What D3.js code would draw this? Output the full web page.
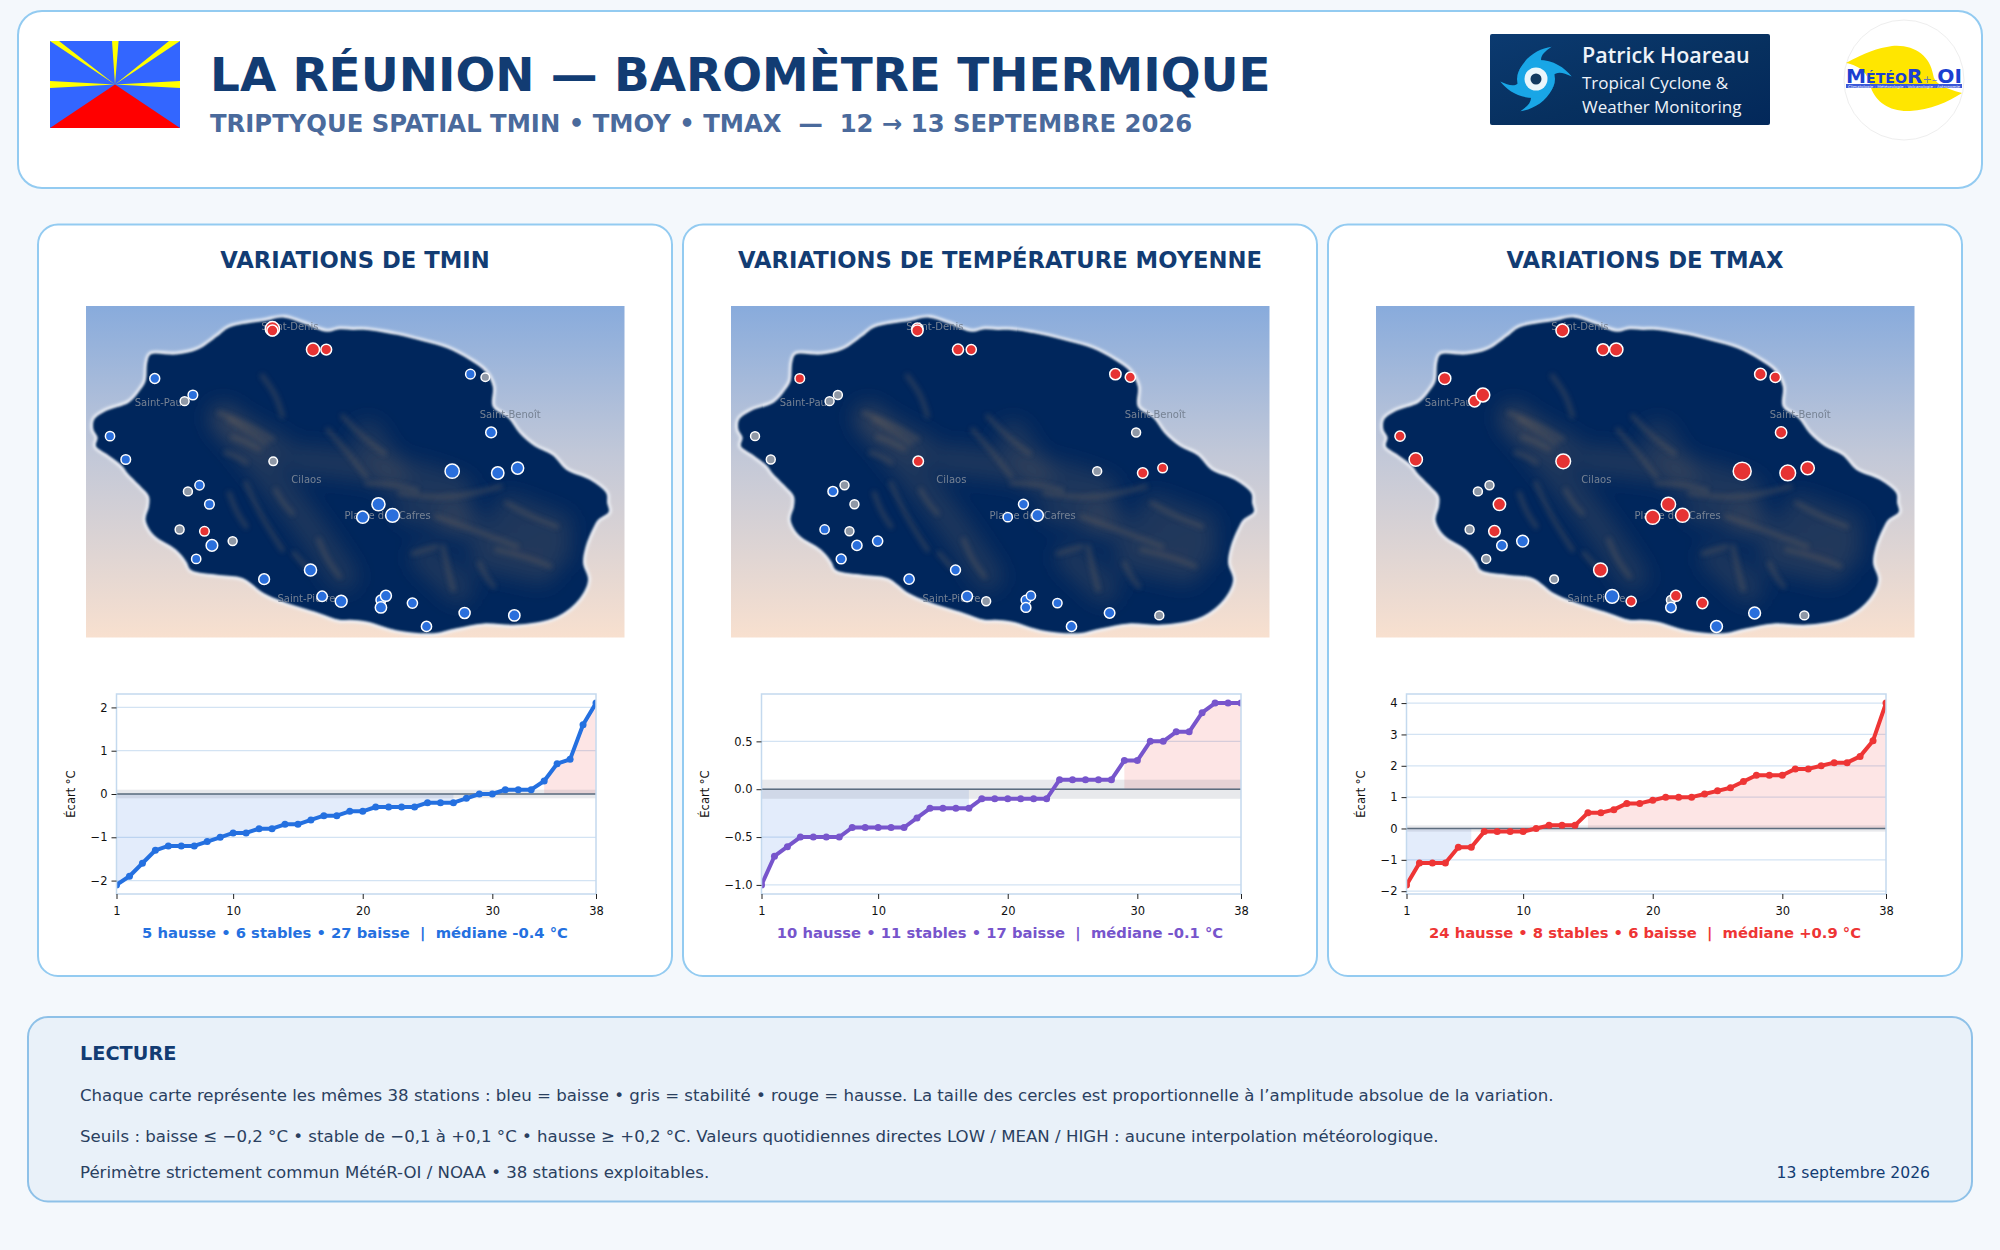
<!DOCTYPE html>
<html lang="fr">
<head>
<meta charset="utf-8">
<title>La Réunion - baromètre thermique</title>
<script src="https://cdn.jsdelivr.net/npm/d3@7"></script>
<style>
html, body { margin: 0; padding: 0; background: #f4f8fc; }
svg { display: block; font-family: "DejaVu Sans", sans-serif; }
text { white-space: pre; }
</style>
</head>
<body>
<div id="chart"></div>
<script>
// stations, same order on the three maps
var stationLon = [55.435, 55.435, 55.484, 55.500, 55.293, 55.339, 55.329, 55.674, 55.692, 55.699,
	55.239, 55.258, 55.436, 55.652, 55.707, 55.731, 55.347, 55.333, 55.359, 55.563,
	55.544, 55.580, 55.323, 55.353, 55.362, 55.387, 55.343, 55.481, 55.425, 55.495,
	55.518, 55.566, 55.572, 55.566, 55.604, 55.667, 55.727, 55.621];
var stationLat = [-20.897, -20.900, -20.931, -20.931, -20.978, -21.005, -21.015, -20.971, -20.976, -21.066,
	-21.072, -21.110, -21.113, -21.129, -21.132, -21.124, -21.152, -21.162, -21.183, -21.183,
	-21.204, -21.201, -21.224, -21.227, -21.250, -21.243, -21.272, -21.290, -21.305, -21.333,
	-21.341, -21.339, -21.332, -21.351, -21.344, -21.360, -21.364, -21.382];

// variation per station (°C)
var tminValues = [2.1, 0.8, 1.6, 0.7, -0.4, -0.3, -0.1, -0.3, 0.0, -0.7,
	-0.2, -0.3, 0.0, -2.1, -1.3, -1.2, -0.2, 0.1, -0.3, -1.6,
	-1.2, -1.9, 0.1, 0.3, -1.0, 0.1, -0.2, -1.2, -0.7, -0.6,
	-1.1, -0.4, -0.8, -0.9, -0.5, -0.8, -0.9, -0.5];
var tmoyValues = [0.9, 0.9, 0.8, 0.5, 0.3, -0.1, -0.1, 0.9, 0.5, 0.1,
	-0.1, -0.1, 0.6, -0.1, 0.6, 0.3, 0.1, -0.4, 0.1, -0.4,
	-0.2, -1.0, -0.2, -0.1, -0.5, -0.5, -0.4, -0.4, -0.5, -0.7,
	0.1, -0.3, -0.2, -0.4, -0.2, -0.6, 0.1, -0.5];
var tmaxValues = [0.1, 1.5, 1.1, 1.7, 1.2, 1.9, 1.0, 1.0, 0.6, 0.9,
	0.5, 1.7, 2.3, 4.0, 2.8, 1.7, -0.1, -0.1, 1.3, 2.1,
	2.1, 2.0, -0.1, 1.0, -0.6, -1.1, -0.1, 1.9, 0.0, -1.8,
	0.5, 0.1, 0.8, -0.6, 0.8, -1.1, 0.1, -1.1];

var panelTitles = ["VARIATIONS DE TMIN", "VARIATIONS DE TEMPÉRATURE MOYENNE", "VARIATIONS DE TMAX"];
var panelNotes = ["5 hausse • 6 stables • 27 baisse  |  médiane -0.4 °C",
	"10 hausse • 11 stables • 17 baisse  |  médiane -0.1 °C",
	"24 hausse • 8 stables • 6 baisse  |  médiane +0.9 °C"];
var panelValues = [tminValues, tmoyValues, tmaxValues];
var panelYTicks = [[-2, -1, 0, 1, 2], [-1, -0.5, 0, 0.5], [-2, -1, 0, 1, 2, 3, 4]];
var rankTicks = [1, 10, 20, 30, 38];

// coastline, clockwise from the north tip
var coastLon = [55.449, 55.471, 55.501, 55.516, 55.532, 55.548, 55.585, 55.618, 55.646, 55.673, 55.692, 55.701,
	55.701, 55.720, 55.733, 55.752, 55.773, 55.790, 55.818, 55.838, 55.839, 55.841, 55.828, 55.822, 55.813,
	55.810, 55.816, 55.806, 55.778, 55.730, 55.690, 55.657, 55.629, 55.585, 55.549, 55.529, 55.516, 55.491,
	55.447, 55.425, 55.399, 55.371, 55.337, 55.331, 55.319, 55.292, 55.282, 55.286, 55.286, 55.276, 55.260,
	55.254, 55.236, 55.222, 55.224, 55.219, 55.220, 55.234, 55.262, 55.276, 55.282, 55.284, 55.288, 55.319,
	55.345, 55.369, 55.383, 55.427];
var coastLat = [-20.879, -20.888, -20.902, -20.898, -20.899, -20.899, -20.907, -20.918, -20.929, -20.948, -20.967, -20.991,
	-21.024, -21.043, -21.067, -21.089, -21.103, -21.127, -21.143, -21.165, -21.181, -21.195, -21.208, -21.222, -21.252,
	-21.279, -21.306, -21.336, -21.366, -21.379, -21.377, -21.385, -21.393, -21.388, -21.374, -21.371, -21.371, -21.360,
	-21.341, -21.328, -21.303, -21.298, -21.290, -21.276, -21.257, -21.233, -21.208, -21.187, -21.170, -21.154, -21.132,
	-21.121, -21.102, -21.088, -21.074, -21.061, -21.045, -21.031, -21.017, -20.996, -20.982, -20.952, -20.939, -20.939,
	-20.931, -20.909, -20.895, -20.884];

// broad lighter areas of the relief and the thinner ridges on top of them
var reliefHaze = [
	[[55.375, -21.04], [55.42, -21.12], [55.47, -21.20], [55.52, -21.30]],
	[[55.47, -21.11], [55.60, -21.13], [55.66, -21.16]],
	[[55.65, -21.21], [55.72, -21.24], [55.78, -21.26]],
	[[55.62, -21.27], [55.66, -21.32]],
	[[55.38, -21.05], [55.44, -21.09]],
	[[55.55, -21.07], [55.58, -21.14]],
	[[55.60, -21.19], [55.66, -21.20]],
	[[55.72, -21.19], [55.78, -21.22]],
	[[55.69, -21.27], [55.76, -21.29]]
];
var reliefRidges = [
	[[55.371, -21.034], [55.405, -21.052], [55.435, -21.077]],
	[[55.383, -21.045], [55.410, -21.068], [55.427, -21.083]],
	[[55.387, -21.074], [55.405, -21.082], [55.419, -21.093]],
	[[55.379, -21.099], [55.392, -21.105], [55.403, -21.115]],
	[[55.423, -20.974], [55.440, -21.005], [55.447, -21.039]],
	[[55.403, -21.149], [55.420, -21.200], [55.447, -21.257]],
	[[55.383, -21.165], [55.391, -21.195], [55.403, -21.219]],
	[[55.439, -21.160], [55.447, -21.180], [55.459, -21.198]],
	[[55.491, -21.241], [55.500, -21.272], [55.516, -21.301]],
	[[55.461, -21.263], [55.475, -21.284]],
	[[55.633, -21.203], [55.689, -21.230], [55.730, -21.252]],
	[[55.718, -21.181], [55.750, -21.205], [55.778, -21.219]],
	[[55.706, -21.257], [55.740, -21.268], [55.770, -21.284]],
	[[55.641, -21.252], [55.647, -21.290], [55.653, -21.322]],
	[[55.605, -21.263], [55.633, -21.252]],
	[[55.685, -21.279], [55.692, -21.300], [55.702, -21.317]],
	[[55.589, -21.165], [55.649, -21.176], [55.710, -21.154]],
	[[55.549, -21.149], [55.580, -21.150], [55.609, -21.160]],
	[[55.502, -21.062], [55.530, -21.105], [55.548, -21.138]],
	[[55.520, -21.040], [55.545, -21.075], [55.570, -21.100]]
];
var placeNames = ["Saint-Denis", "Saint-Paul", "Saint-Benoît", "Cilaos", "Plaine des Cafres", "Saint-Pierre"];
var placeLon = [55.456, 55.299, 55.722, 55.476, 55.574, 55.476];
var placeLat = [-20.893, -21.018, -21.037, -21.143, -21.201, -21.336];

var noteLines = ["Chaque carte représente les mêmes 38 stations : bleu = baisse • gris = stabilité • rouge = hausse. La taille des cercles est proportionnelle à l’amplitude absolue de la variation.",
	"Seuils : baisse ≤ −0,2 °C • stable de −0,1 à +0,1 °C • hausse ≥ +0,2 °C. Valeurs quotidiennes directes LOW / MEAN / HIGH : aucune interpolation météorologique.",
	"Périmètre strictement commun MétéR-OI / NOAA • 38 stations exploitables."];

var navy = "#123c73",
	blue = "#2470e0",
	red = "#ee3535",
	purple = "#7755cc",
	gray = "#8f98a6",
	panelColors = [blue, purple, red];

var svg = d3.select("#chart").append("svg")
	.attr("width", 2000)
	.attr("height", 1250);
var defs = svg.append("defs");

var sky = defs.append("linearGradient").attr("id", "sky")
	.attr("x1", 0).attr("y1", 0).attr("x2", 0).attr("y2", 1);
sky.append("stop").attr("offset", "0%").attr("stop-color", "#88abdc");
sky.append("stop").attr("offset", "45%").attr("stop-color", "#c2c8d8");
sky.append("stop").attr("offset", "100%").attr("stop-color", "#f8e0cf");

var logoBg = defs.append("linearGradient").attr("id", "logoBg")
	.attr("x1", 0).attr("y1", 0).attr("x2", 1).attr("y2", 1);
logoBg.append("stop").attr("offset", "0%").attr("stop-color", "#0b3a70");
logoBg.append("stop").attr("offset", "55%").attr("stop-color", "#07305f");
logoBg.append("stop").attr("offset", "100%").attr("stop-color", "#03285a");

function blurFilter(id, amount) {
	defs.append("filter").attr("id", id)
		.attr("x", "-20%").attr("y", "-20%").attr("width", "140%").attr("height", "140%")
		.append("feGaussianBlur").attr("stdDeviation", amount);
}
blurFilter("glow", 1.5);
blurFilter("edge", 0.8);
blurFilter("hazeBlur", 10);
blurFilter("ridgeBlur", 2.4);

function card(x, y, w, h, r, fill, stroke) {
	svg.append("rect")
		.attr("x", x).attr("y", y)
		.attr("width", w).attr("height", h)
		.attr("rx", r)
		.attr("fill", fill)
		.attr("stroke", stroke)
		.attr("stroke-width", 2);
}

function drawHeader() {
	card(18, 11, 1964, 177, 24, "#fff", "#93cbf1");

	var flag = svg.append("g").attr("transform", "translate(50,41)");
	flag.append("rect").attr("width", 130).attr("height", 87).attr("fill", "#3366ff");
	flag.append("path").attr("d", "M65,43.5L0,87H130Z").attr("fill", "#ff0000");
	flag.append("path")
		.attr("d", "M65,43.5L0,0H9Z M65,43.5L62,0H68.6Z M65,43.5L119,0H130Z M65,43.5L0,40V47Z M65,43.5L130,40V47Z")
		.attr("fill", "#ffff00");

	svg.append("text").attr("x", 210).attr("y", 91)
		.attr("font-size", 46.9).attr("font-weight", "bold").attr("fill", navy)
		.text("LA RÉUNION — BAROMÈTRE THERMIQUE");
	svg.append("text").attr("x", 210).attr("y", 132)
		.attr("font-size", 24.3).attr("font-weight", "bold").attr("fill", "#4a6a9c")
		.text("TRIPTYQUE SPATIAL TMIN • TMOY • TMAX  —  12 → 13 SEPTEMBRE 2026");

	// Patrick Hoareau badge
	var badge = svg.append("g").attr("transform", "translate(1490,34)");
	badge.append("rect").attr("width", 280).attr("height", 91).attr("rx", 2).attr("fill", "url(#logoBg)");
	var eye = badge.append("g").attr("transform", "translate(46,45)");
	eye.selectAll("path").data([0, 60, 180, 240]).join("path")
		.attr("d", "M-18,-10C-10,-26 4,-33 17,-35C8,-29 4,-24 6,-18C12,-14 16,-8 18,-2L0,0Z")
		.attr("transform", function(a) { return "rotate(" + a + ") scale(0.92)"; })
		.attr("fill", "#19a6e6");
	eye.append("circle").attr("r", 19).attr("fill", "#19a6e6");
	eye.append("circle").attr("r", 11.5).attr("fill", "#eaf6fb");
	eye.append("circle").attr("r", 5.5).attr("fill", "#123a60");
	var badgeText = badge.append("g").attr("fill", "#eef3f9").attr("font-family", "'Open Sans', sans-serif");
	badgeText.append("text").attr("x", 92).attr("y", 29).attr("font-size", 21.5).attr("font-weight", 600).text("Patrick Hoareau");
	badgeText.append("text").attr("x", 92).attr("y", 55).attr("font-size", 17).text("Tropical Cyclone &");
	badgeText.append("text").attr("x", 92).attr("y", 79).attr("font-size", 17).text("Weather Monitoring");

	// MétéoR-OI badge
	var meteo = svg.append("g").attr("transform", "translate(1904,80)");
	meteo.append("circle").attr("r", 60).attr("fill", "#fff").attr("stroke", "#eeeeee");
	meteo.append("path")
		.attr("d", "M-58,-17C-40,-27 -26,-32 -12,-34C10,-36 26,-24 29,-6C30,4 40,8 58,13C44,22 26,30 6,31C-14,32 -28,22 -33,8C-36,-8 -44,-14 -58,-17Z")
		.attr("fill", "#ffe600");
	var logoText = meteo.append("text").attr("x", 0).attr("y", 3).attr("text-anchor", "middle")
		.attr("font-weight", "bold").attr("fill", "#1c3fd0")
		.attr("textLength", 116).attr("lengthAdjust", "spacingAndGlyphs");
	logoText.append("tspan").attr("font-size", 20).text("M");
	logoText.append("tspan").attr("font-size", 14).text("ÉTÉO");
	logoText.append("tspan").attr("font-size", 20).text("R");
	logoText.append("tspan").attr("font-size", 11).attr("font-weight", "normal").attr("fill", "#6a7ab0").text("+–");
	logoText.append("tspan").attr("font-size", 20).text("OI");
	meteo.append("rect").attr("x", -58).attr("y", 4).attr("width", 116).attr("height", 4).attr("fill", "#3a57d8");
	meteo.append("text").attr("x", 0).attr("y", 7.5).attr("text-anchor", "middle")
		.attr("font-size", 3.6).attr("fill", "#fff").attr("textLength", 112).attr("lengthAdjust", "spacingAndGlyphs")
		.text("Climatologie - Météorologie - Volcanologie - Astronomie");
}

function drawMap(g, values, idx) {
	var w = 538.5, h = 331.5;
	var lon = d3.scaleLinear().domain([55.21, 55.86]).range([0, w]);
	var lat = d3.scaleLinear().domain([-20.86, -21.40]).range([0, h]);
	var area = d3.scaleLinear().domain([0, 4]).range([25, 94]);

	var clipId = "island" + idx;
	var coast = d3.line()
		.x(function(d) { return lon(d[0]); })
		.y(function(d) { return lat(d[1]); })
		.curve(d3.curveCatmullRomClosed.alpha(0.5));
	var coastPath = coast(d3.zip(coastLon, coastLat));

	defs.append("clipPath").attr("id", clipId).append("path").attr("d", coastPath);
	defs.append("clipPath").attr("id", "mapFrame" + idx).append("rect").attr("width", w).attr("height", h);

	g.append("rect").attr("width", w).attr("height", h).attr("fill", "url(#sky)");
	var land = g.append("g").attr("clip-path", "url(#mapFrame" + idx + ")");
	land.append("path").attr("d", coastPath)
		.attr("fill", "none").attr("stroke", "#eff3f8").attr("stroke-width", 5.5)
		.attr("filter", "url(#glow)");
	land.append("path").attr("d", coastPath).attr("fill", "#03275b").attr("filter", "url(#edge)");

	var relief = d3.line()
		.x(function(d) { return lon(d[0]); })
		.y(function(d) { return lat(d[1]); })
		.curve(d3.curveBasis);
	var inside = land.append("g").attr("clip-path", "url(#" + clipId + ")");
	inside.append("g").attr("filter", "url(#hazeBlur)")
		.selectAll("path").data(reliefHaze).join("path")
		.attr("d", relief)
		.attr("fill", "none")
		.attr("stroke", "#5f5a58")
		.attr("stroke-width", 30)
		.attr("stroke-linecap", "round")
		.attr("opacity", 0.3);
	inside.append("g").attr("filter", "url(#ridgeBlur)")
		.selectAll("path").data(reliefRidges).join("path")
		.attr("d", relief)
		.attr("fill", "none")
		.attr("stroke", "#7a6a5e")
		.attr("stroke-width", 5)
		.attr("stroke-linecap", "round")
		.attr("opacity", 0.3);

	g.selectAll("text.place").data(placeNames).join("text")
		.attr("class", "place")
		.attr("x", function(d, i) { return lon(placeLon[i]); })
		.attr("y", function(d, i) { return lat(placeLat[i]); })
		.attr("dy", "0.35em")
		.attr("text-anchor", "middle")
		.attr("font-size", 10)
		.attr("fill", "#768293")
		.text(function(d) { return d; });

	var dots = g.selectAll("circle").data(values).join("circle")
		.attr("cx", function(d, i) { return lon(stationLon[i]); })
		.attr("cy", function(d, i) { return lat(stationLat[i]); })
		.attr("r", function(d) { return Math.sqrt(area(Math.abs(d))) - 0.7; })
		.attr("fill", function(d) { return d <= -0.2 ? "#2a6fdc" : d >= 0.2 ? "#e63333" : gray; })
		.attr("stroke", "#fff")
		.attr("stroke-width", 1.5);
	// on the Tmax map the larger Saint-Paul marker sits above its neighbour
	if (idx == 2) dots.filter(function(d, i) { return i == 5; }).raise();
}

function drawCurve(g, values, idx) {
	var w = 479.5, h = 200;
	var sorted = values.slice().sort(d3.ascending);
	var pts = sorted.map(function(v, i) { return {rank: i + 1, v: v}; });
	var ext = d3.extent(sorted), pad = (ext[1] - ext[0]) * 0.05;

	var x = d3.scaleLinear().domain([1, 38]).range([0, w]);
	var y = d3.scaleLinear().domain([ext[0] - pad, ext[1] + pad]).range([h, 0]);

	defs.append("clipPath").attr("id", "axes" + idx).append("rect").attr("width", w).attr("height", h);
	var plot = g.append("g").attr("clip-path", "url(#axes" + idx + ")");

	plot.selectAll("line.grid").data(panelYTicks[idx]).join("line")
		.attr("class", "grid")
		.attr("x1", 0).attr("x2", w)
		.attr("y1", function(d) { return y(d); })
		.attr("y2", function(d) { return y(d); })
		.attr("stroke", "#d3e3f3")
		.attr("stroke-width", 1.2);

	var area = d3.area()
		.x(function(d) { return x(d.rank); })
		.y0(y(0))
		.y1(function(d) { return y(d.v); });
	plot.append("path")
		.attr("d", area(pts.filter(function(d) { return d.v <= -0.2; })))
		.attr("fill", "#2470e0").attr("fill-opacity", 0.13);
	plot.append("path")
		.attr("d", area(pts.filter(function(d) { return d.v >= 0.2; })))
		.attr("fill", "#ee3535").attr("fill-opacity", 0.13);

	plot.append("rect")
		.attr("x", 0).attr("width", w)
		.attr("y", y(0.1)).attr("height", y(-0.1) - y(0.1))
		.attr("fill", "#5a6478").attr("fill-opacity", 0.14);
	plot.append("line")
		.attr("x1", 0).attr("x2", w)
		.attr("y1", y(0)).attr("y2", y(0))
		.attr("stroke", "#5d6d7e").attr("stroke-width", 1.5);

	var line = d3.line()
		.x(function(d) { return x(d.rank); })
		.y(function(d) { return y(d.v); });
	plot.append("path")
		.attr("d", line(pts))
		.attr("fill", "none")
		.attr("stroke", panelColors[idx])
		.attr("stroke-width", 4)
		.attr("stroke-linejoin", "round");
	plot.selectAll("circle").data(pts).join("circle")
		.attr("cx", function(d) { return x(d.rank); })
		.attr("cy", function(d) { return y(d.v); })
		.attr("r", 3.5)
		.attr("fill", panelColors[idx]);

	g.append("rect").attr("width", w).attr("height", h)
		.attr("fill", "none").attr("stroke", "#c4d9ee").attr("stroke-width", 1.5);

	var yAxis = d3.axisLeft(y)
		.tickValues(panelYTicks[idx])
		.tickFormat(d3.format(idx == 1 ? ".1f" : "d"))
		.tickSize(5).tickPadding(4);
	var xAxis = d3.axisBottom(x)
		.tickValues(rankTicks)
		.tickFormat(d3.format("d"))
		.tickSize(5).tickPadding(8);
	[g.append("g").call(yAxis), g.append("g").attr("transform", "translate(0," + h + ")").call(xAxis)]
		.forEach(function(ax) {
			ax.select(".domain").remove();
			ax.selectAll("text").attr("font-size", 11.5).attr("font-family", "'DejaVu Sans', sans-serif").attr("fill", "#111");
			ax.selectAll("line").attr("stroke", "#222");
		});

	g.append("text")
		.attr("transform", "translate(" + (idx == 1 ? -56.5 : -46) + "," + (h / 2) + ") rotate(-90)")
		.attr("dy", "0.35em")
		.attr("text-anchor", "middle")
		.attr("font-size", 11.5)
		.attr("fill", "#111")
		.text("Écart °C");

	// the note is centred on the card, not on the axes
	g.append("text")
		.attr("x", 317 - 78.5)
		.attr("y", 244)
		.attr("text-anchor", "middle")
		.attr("font-size", 14.75)
		.attr("font-weight", "bold")
		.attr("fill", panelColors[idx])
		.text(panelNotes[idx]);
}

function drawPanels() {
	panelTitles.forEach(function(title, i) {
		var left = 38 + i * 645;
		card(left, 224.5, 634, 751.5, 20, "#fff", "#93cbf1");

		svg.append("text")
			.attr("x", left + 317).attr("y", 268)
			.attr("text-anchor", "middle")
			.attr("font-size", 22.7)
			.attr("font-weight", "bold")
			.attr("fill", navy)
			.text(title);

		drawMap(svg.append("g").attr("transform", "translate(" + (left + 48) + ",306)"), panelValues[i], i);
		drawCurve(svg.append("g").attr("transform", "translate(" + (left + 78.5) + ",694)"), panelValues[i], i);
	});
}

function drawNotes() {
	card(28, 1017, 1944, 184.5, 20, "#e9f1f9", "#8ec1e8");
	svg.append("text").attr("x", 80).attr("y", 1060)
		.attr("font-size", 19.3).attr("font-weight", "bold").attr("fill", navy)
		.text("LECTURE");
	var baselines = [1101, 1142, 1178];
	noteLines.forEach(function(t, i) {
		svg.append("text").attr("x", 80).attr("y", baselines[i])
			.attr("font-size", 16.6).attr("fill", "#2a4060")
			.text(t);
	});
	svg.append("text").attr("x", 1930).attr("y", 1177.5)
		.attr("text-anchor", "end")
		.attr("font-size", 15.6).attr("fill", navy)
		.text("13 septembre 2026");
}

drawHeader();
drawPanels();
drawNotes();
</script>
</body>
</html>
